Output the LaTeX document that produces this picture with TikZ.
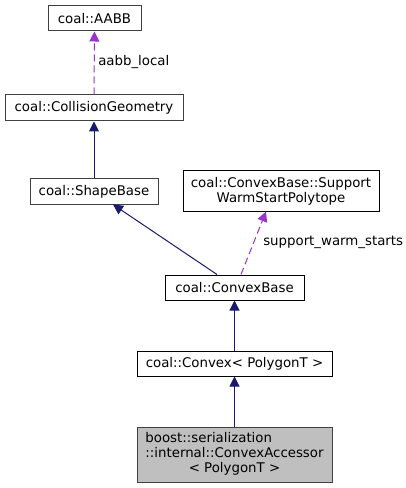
\documentclass[tikz,border=0pt]{standalone}
\usepackage{fontspec}
\setmainfont{DejaVu Sans}
\usetikzlibrary{arrows.meta}
\definecolor{edgenavy}{HTML}{191970}
\definecolor{edgepurple}{HTML}{9A32CD}
\definecolor{boxgray}{HTML}{404040}
\definecolor{leafgray}{HTML}{BFBFBF}
\tikzset{
  classbox/.style={draw=black, line width=0.75pt, inner sep=0pt, align=center,
    font=\fontsize{10}{11.25}\selectfont},
  inherit/.style={edgenavy, line width=0.75pt, -{Triangle[length=7.5pt,width=7.5pt]}},
  usage/.style={edgepurple, line width=0.75pt, dash pattern=on 5.25pt off 3pt,
    -{Triangle[length=7.5pt,width=7.5pt]}},
  edgelabel/.style={anchor=west, inner sep=0pt, font=\fontsize{10}{12}\selectfont}
}

\begin{document}
\begin{tikzpicture}[x=0.75pt,y=-0.75pt]
\useasboundingbox (0,0) rectangle (405,488);
% Boxes
\node[classbox, draw=boxgray, minimum width=93*0.75pt, minimum height=25*0.75pt] (aabb) at (94.5,18.5) {coal::AABB};
\node[classbox, draw=boxgray, minimum width=178*0.75pt, minimum height=26*0.75pt] (collgeom) at (94,108) {coal::CollisionGeometry};
\node[classbox, draw=boxgray, minimum width=128*0.75pt, minimum height=25*0.75pt] (shapebase) at (94,191.5) {coal::ShapeBase};
\node[classbox, minimum width=196*0.75pt, minimum height=40*0.75pt] (warmstart) at (281,191) {coal::ConvexBase::Support\\WarmStartPolytope};
\node[classbox, minimum width=139*0.75pt, minimum height=25*0.75pt] (convexbase) at (234.5,287.5) {coal::ConvexBase};
\node[classbox, minimum width=195*0.75pt, minimum height=25*0.75pt] (convex) at (234.5,363.5) {coal::Convex< PolygonT >};
\node[classbox, fill=leafgray, draw=boxgray, minimum width=195*0.75pt, minimum height=55*0.75pt] (accessor) at (234.5,454.5)
  {\begin{tabular}{@{}l@{}}boost::serialization\\::internal::ConvexAccessor\\\multicolumn{1}{@{}c@{}}{< PolygonT >}\end{tabular}};

% Inheritance
\draw[inherit] (shapebase) -- (collgeom);
\draw[inherit] ([xshift=-17.5*0.75pt]convexbase.north) -- ([xshift=19*0.75pt]shapebase.south);
\draw[inherit] (convex) -- (convexbase);
\draw[inherit] (accessor) -- (convex);

% Members
\draw[usage] (collgeom) -- (aabb);
\node[edgelabel] (aabblabel) at (98,62) {aabb\_local};
\draw[usage] ([xshift=6.5*0.75pt]convexbase.north) -- ([xshift=-15*0.75pt]warmstart.south);
\node[edgelabel] (warmlabel) at (263,242) {support\_warm\_starts};
\end{tikzpicture}
\end{document}
